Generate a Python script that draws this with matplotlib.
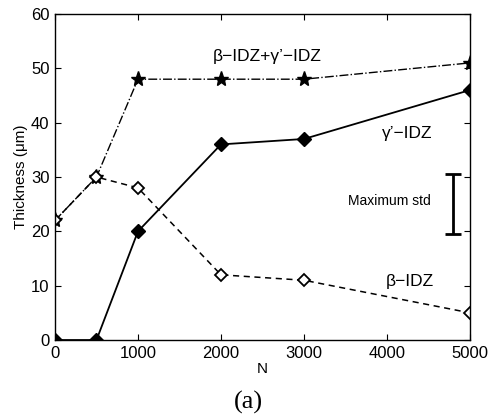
import matplotlib
matplotlib.use("Agg")
import matplotlib.pyplot as plt

# ---- data ----
N = [0, 500, 1000, 2000, 3000, 5000]
total = [22, 30, 48, 48, 48, 51]        # beta-IDZ + gamma'-IDZ (stars)
gamma = [0, 0, 20, 36, 37, 46]          # gamma'-IDZ (filled diamonds)
beta = [22, 30, 28, 12, 11, 5]          # beta-IDZ (open diamonds)
std_x, std_mid, std_half = 4800, 25, 5.5

plt.rcParams.update({"font.family": "Liberation Sans", "font.size": 12})
fig = plt.figure(figsize=(4.88, 4.19), dpi=100)
ax = fig.add_axes([0.1127, 0.1885, 0.8503, 0.7781])

ax.plot(N, total, color="k", ls="-.", lw=1, marker="*", ms=11, mfc="k", mec="k")
ax.plot(N, beta, color="k", ls="--", lw=1.1, dashes=(4, 3), marker="D", ms=6, mfc="white", mec="k", mew=1.3)
ax.plot(N, gamma, color="k", ls="-", lw=1.3, marker="D", ms=7, mfc="k", mec="k")
ax.errorbar([std_x], [std_mid], yerr=[std_half], color="k", lw=2, capsize=6, capthick=2)

ax.text(2560, 52.2, "β−IDZ+γ’−IDZ", ha="center", va="center", fontsize=12.5)
ax.text(4240, 38, "γ’−IDZ", ha="center", va="center", fontsize=12.5)
ax.text(4280, 10.8, "β−IDZ", ha="center", va="center", fontsize=12.5)
ax.text(4030, 25.5, "Maximum std", ha="center", va="center", fontsize=10)

ax.set_xlim(0, 5000)
ax.set_ylim(0, 60)
ax.set_xticks(range(0, 5001, 1000))
ax.set_yticks(range(0, 61, 10))
ax.tick_params(direction="in", top=True, right=True, length=4, width=0.8, pad=4)
for sp in ax.spines.values():
    sp.set_linewidth(1)
ax.set_xlabel("N", fontsize=11, labelpad=1)
ax.set_ylabel("Thickness (μm)", fontsize=11, labelpad=2)
fig.text(0.51, 0.04, "(a)", ha="center", va="center", fontsize=19, family="Liberation Serif")

fig.savefig("out.png", facecolor="white")
